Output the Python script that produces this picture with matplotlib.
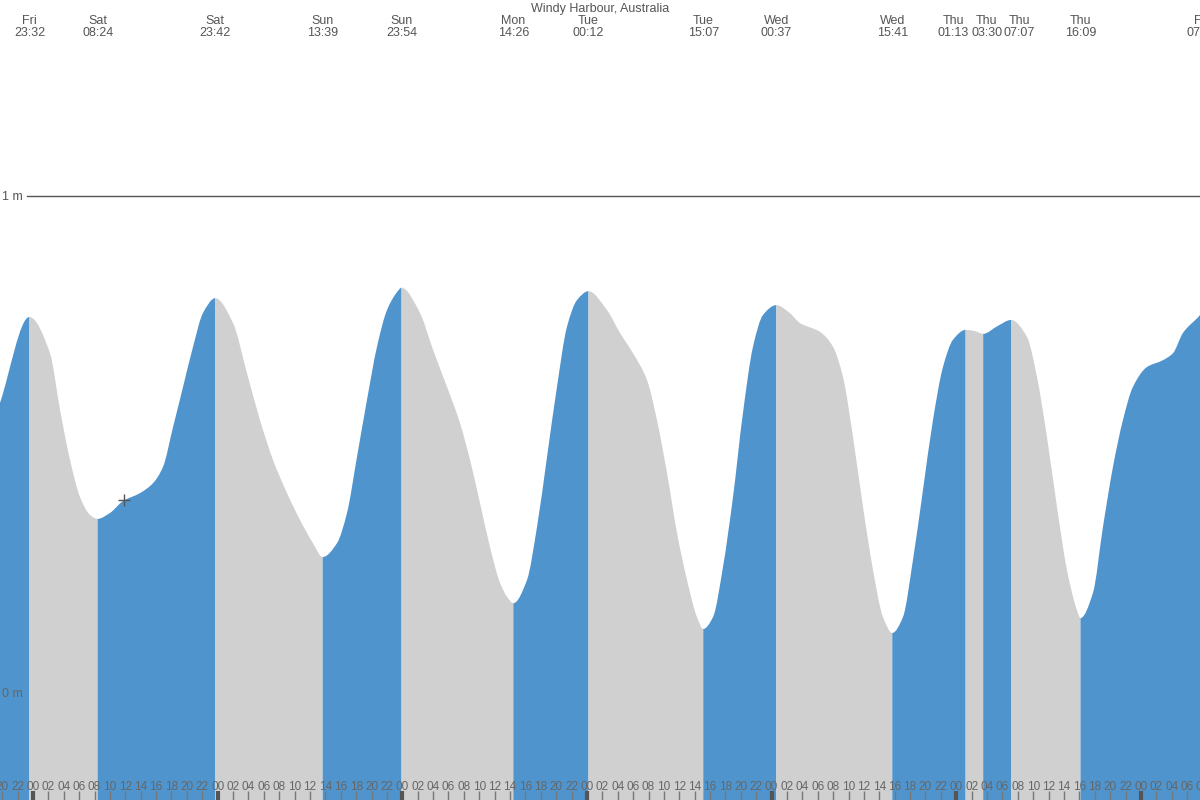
import numpy as np
import matplotlib
matplotlib.use("Agg")
import matplotlib.pyplot as plt
from matplotlib.path import Path
from matplotlib.patches import PathPatch
from matplotlib.transforms import blended_transform_factory

plt.rcParams['font.family'] = ['Liberation Sans', 'DejaVu Sans']

title = "Windy Harbour, Australia"

# Extremes (high / low tides); day index 0 = Saturday
ext_day_names = ["Fri", "Sat", "Sat", "Sun", "Sun", "Mon", "Tue", "Tue",
                 "Wed", "Wed", "Thu", "Thu", "Thu", "Thu", "Fri"]
ext_day_index = [-1, 0, 0, 1, 1, 2, 3, 3, 4, 4, 5, 5, 5, 5, 6]
ext_clock = ["23:32", "08:24", "23:42", "13:39", "23:54", "14:26", "00:12", "15:07",
             "00:37", "15:41", "01:13", "03:30", "07:07", "16:09", "07:55"]
ext_height = [0.756, 0.349, 0.794, 0.272, 0.815, 0.179, 0.808, 0.127,
              0.780, 0.119, 0.730, 0.722, 0.750, 0.149, 0.765]

# Intermediate readings: hours since Saturday 00:00, height in metres
sample_hours = [-4.29, 2.21, 3.51, 4.81, 6.11, 7.41,
                10.01, 11.70, 13.91, 15.60, 16.90, 18.20, 19.50, 20.80, 22.09,
                25.99, 27.81, 29.50, 31.19, 33.01, 34.70, 36.39,
                39.51, 40.81, 42.11, 43.41, 44.71, 46.01, 47.31,
                50.30, 51.99, 53.81, 55.50, 56.80, 58.10, 59.40, 60.70, 61.61,
                64.21, 65.51, 66.81, 68.10, 69.40, 70.70,
                74.60, 76.29, 77.98, 79.80, 81.10, 82.40, 83.70, 85.00, 86.30,
                88.38, 89.68, 90.98, 92.28, 93.58, 94.88,
                98.36, 99.66, 102.29, 103.98, 105.28, 106.58, 107.88, 109.18, 110.48,
                113.07, 114.37, 115.67, 116.97, 118.27, 119.57,
                122.30, 125.40,
                129.19, 130.49, 131.79, 133.09, 134.39, 135.69,
                137.77, 139.07, 140.37, 141.66, 142.96, 144.78, 146.87, 148.17, 149.47, 151.68]
sample_height = [0.583, 0.683, 0.569, 0.468, 0.393, 0.357,
                 0.361, 0.385, 0.401, 0.421, 0.454, 0.534, 0.615, 0.696, 0.764,
                 0.744, 0.643, 0.548, 0.468, 0.401, 0.347, 0.300,
                 0.300, 0.361, 0.474, 0.589, 0.696, 0.770, 0.806,
                 0.764, 0.690, 0.615, 0.542, 0.468, 0.381, 0.292, 0.220, 0.192,
                 0.226, 0.333, 0.474, 0.615, 0.736, 0.790,
                 0.770, 0.724, 0.683, 0.629, 0.548, 0.442, 0.321, 0.226, 0.151,
                 0.151, 0.252, 0.393, 0.563, 0.696, 0.760,
                 0.764, 0.744, 0.726, 0.696, 0.635, 0.514, 0.373, 0.246, 0.151,
                 0.151, 0.266, 0.407, 0.548, 0.655, 0.710,
                 0.728, 0.738,
                 0.716, 0.635, 0.514, 0.373, 0.246, 0.165,
                 0.200, 0.333, 0.454, 0.548, 0.615, 0.655, 0.669, 0.683, 0.724, 0.760]

x_min, x_max = -4.29, 151.68
y_min, y_max = -0.2177, 1.395

ext_hours = [d * 24 + int(c[:2]) + int(c[3:]) / 60 for d, c in zip(ext_day_index, ext_clock)]

t = np.array(sample_hours + ext_hours)
h = np.array(sample_height + ext_height)
order = np.argsort(t)
t, h = t[order], h[order]

# monotone (shape-preserving) tangents for smooth Bezier rendering of the readings
dt = np.diff(t)
dd = np.diff(h) / dt
m = np.zeros_like(h)
m[0], m[-1] = dd[0], dd[-1]
for k in range(1, len(h) - 1):
    if dd[k - 1] * dd[k] <= 0:
        m[k] = 0.0
    else:
        w1 = 2 * dt[k] + dt[k - 1]
        w2 = dt[k] + 2 * dt[k - 1]
        m[k] = (w1 + w2) / (w1 / dd[k - 1] + w2 / dd[k])


def segment_path(i0, i1):
    verts = [(t[i0], y_min), (t[i0], h[i0])]
    codes = [Path.MOVETO, Path.LINETO]
    for k in range(i0, i1):
        d = t[k + 1] - t[k]
        verts += [(t[k] + d / 3, h[k] + m[k] * d / 3),
                  (t[k + 1] - d / 3, h[k + 1] - m[k + 1] * d / 3),
                  (t[k + 1], h[k + 1])]
        codes += [Path.CURVE4] * 3
    verts += [(t[i1], y_min), (t[i0], y_min)]
    codes += [Path.LINETO, Path.CLOSEPOLY]
    return Path(verts, codes)


BLUE = "#4f94cd"
GREY = "#d0d0d0"
TXT = "#555555"

fig = plt.figure(figsize=(12, 8), dpi=100)
ax = fig.add_axes([0, 0, 1, 1])
ax.set_xlim(x_min, x_max)
ax.set_ylim(y_min, y_max)
ax.axis("off")

ext_idx = [int(np.argmin(np.abs(t - e))) for e in ext_hours]
bounds = [0] + ext_idx + [len(t) - 1]
for i in range(len(bounds) - 1):
    a, b = bounds[i], bounds[i + 1]
    if b <= a:
        continue
    rising = h[b] > h[a]
    ax.add_patch(PathPatch(segment_path(a, b), facecolor=BLUE if rising else GREY,
                           edgecolor="none", linewidth=0))

# 1 m line
ax.axhline(1.0, xmin=27 / 1200, xmax=1, color=TXT, linewidth=1)
ta = ax.transAxes
ax.text(2 / 1200, 1 - 200 / 800, "1 m", transform=ta, ha="left", va="baseline",
        fontsize=9, color=TXT)
ax.text(2 / 1200, 1 - 697 / 800, "0 m", transform=ta, ha="left", va="baseline",
        fontsize=9, color="#666666")

# current-time marker
now_hour, now_height = 11.83, 0.387
ax.plot([now_hour], [now_height], marker="+", markersize=8, color=TXT, mew=1)

# bottom ticks
tb = blended_transform_factory(ax.transData, ax.transAxes)
for hr in range(-4, 153, 2):
    if hr < x_min - 1 or hr > x_max + 1:
        continue
    midnight = hr % 24 == 0
    ax.plot([hr, hr], [0, 9 / 800], transform=tb,
            color="#555555" if midnight else "#777777",
            linewidth=3 if midnight else 1, solid_capstyle="butt", clip_on=False)
    ax.text(hr, 10 / 800, f"{hr % 24:02d}", transform=tb, ha="center", va="baseline",
            fontsize=8.5, color="#666666")

# top labels, spread apart where they would collide
px_per_hr = 1200 / (x_max - x_min)
orig = [(e - x_min) * px_per_hr for e in ext_hours]
min_sep = 33.0
groups = [[i] for i in range(len(orig))]
changed = True
while changed:
    changed = False
    centers = [np.mean([orig[i] for i in g]) for g in groups]
    for j in range(len(groups) - 1):
        ga, gb = groups[j], groups[j + 1]
        right_a = centers[j] + (len(ga) - 1) / 2 * min_sep
        left_b = centers[j + 1] - (len(gb) - 1) / 2 * min_sep
        if left_b - right_a < min_sep:
            groups[j] = ga + gb
            del groups[j + 1]
            changed = True
            break
label_px = [0.0] * len(orig)
for g in groups:
    c = np.mean([orig[i] for i in g])
    for n, i in enumerate(g):
        label_px[i] = c + (n - (len(g) - 1) / 2) * min_sep

for name, clock, px in zip(ext_day_names, ext_clock, label_px):
    ax.text(px / 1200, 1 - 24 / 800, name, transform=ta, ha="center", va="baseline",
            fontsize=9, color=TXT)
    ax.text(px / 1200, 1 - 36 / 800, clock, transform=ta, ha="center", va="baseline",
            fontsize=9, color=TXT)

ax.text(0.5, 1 - 12 / 800, title, transform=ta, ha="center", va="baseline",
        fontsize=9, color=TXT)

fig.savefig("out.png", dpi=100)
